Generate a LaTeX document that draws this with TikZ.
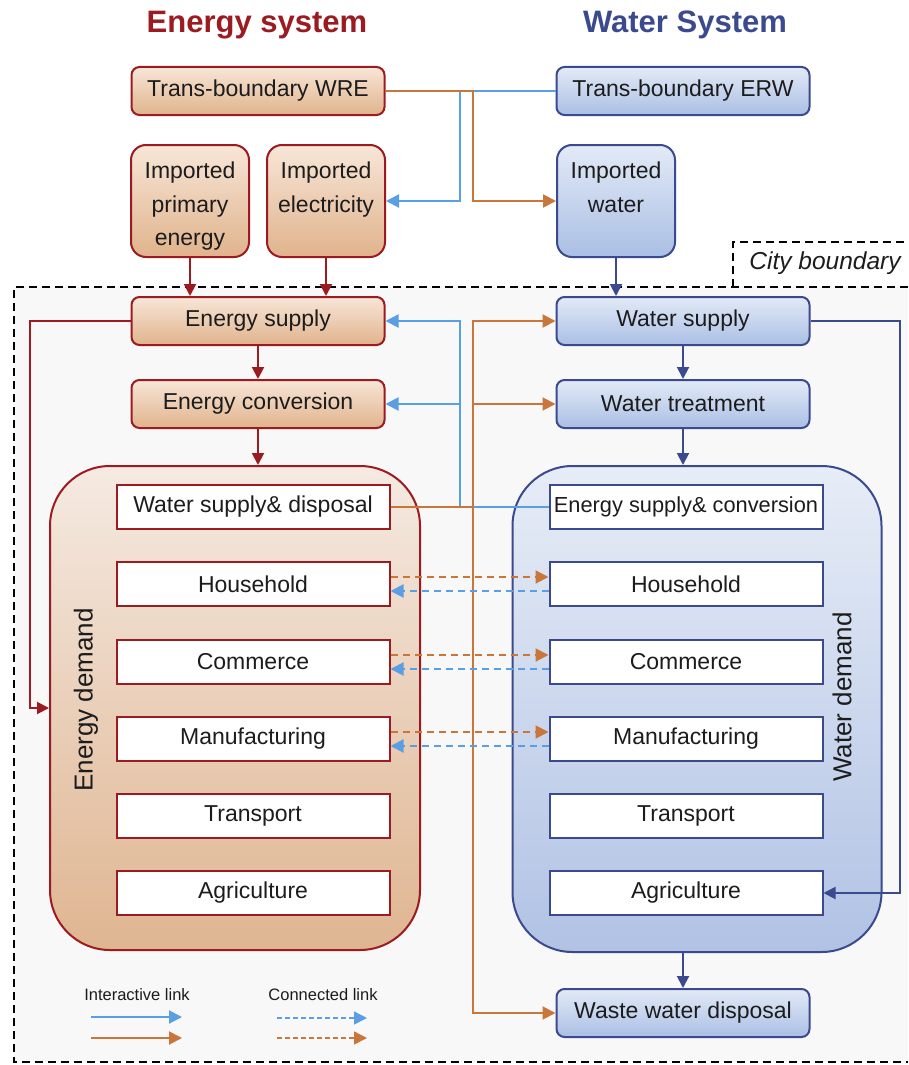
\documentclass[tikz,border=0pt]{standalone}
\usepackage{fontspec}
\setmainfont{Liberation Sans}
\usetikzlibrary{positioning, calc, arrows.meta}
\definecolor{EnRed}{HTML}{9B1B20}
\definecolor{WaNavy}{HTML}{3B4A8E}
\definecolor{LinkOrange}{HTML}{C9763A}
\definecolor{LinkBlue}{HTML}{5A9EE4}
\definecolor{EnTop}{HTML}{F8E6D8}
\definecolor{EnBot}{HTML}{E0B38C}
\definecolor{WaTop}{HTML}{E3EAF7}
\definecolor{WaBot}{HTML}{AABFE4}
\definecolor{EnDemTop}{HTML}{F5EAE2}
\definecolor{EnDemBot}{HTML}{DFB591}
\definecolor{WaDemTop}{HTML}{E7EDF7}
\definecolor{WaDemBot}{HTML}{B1C2E4}
\definecolor{BoundFill}{HTML}{F8F8F8}
\definecolor{InkDark}{HTML}{1C1C1C}
\newcommand{\fntbox}{\fontsize{23}{33.5}\selectfont}
\newcommand{\fnttitle}{\fontsize{31}{36}\selectfont\bfseries}
\newcommand{\fntlegend}{\fontsize{16.5}{20}\selectfont}
\newcommand{\imptop}{\rule{0pt}{26.8pt}}
\newcommand{\impbot}{\rule[-4.8pt]{0pt}{0pt}}
\tikzset{
    enbox/.style={rectangle, rounded corners=8pt, draw=EnRed, line width=2pt, top color=EnTop, bottom color=EnBot, text=InkDark, align=center, font=\fntbox, minimum width=253pt, minimum height=48pt, inner sep=0pt},
    wabox/.style={enbox, draw=WaNavy, top color=WaTop, bottom color=WaBot},
    enimport/.style={enbox, rounded corners=15pt, minimum width=118pt, minimum height=112pt},
    waimport/.style={wabox, rounded corners=15pt, minimum width=118pt, minimum height=112pt},
    endemand/.style={rectangle, rounded corners=60pt, draw=EnRed, line width=2pt, top color=EnDemTop, bottom color=EnDemBot, minimum width=370pt, minimum height=484pt},
    wademand/.style={endemand, draw=WaNavy, top color=WaDemTop, bottom color=WaDemBot, minimum width=369pt, minimum height=486pt},
    ensector/.style={rectangle, draw=EnRed, line width=2pt, fill=white, text=InkDark, font=\fntbox, minimum width=273pt, minimum height=44pt, inner sep=0pt},
    wasector/.style={ensector, draw=WaNavy},
    enarrow/.style={-{Triangle[length=12pt, width=12pt]}, line width=2pt, draw=EnRed},
    waarrow/.style={enarrow, draw=WaNavy},
    olink/.style={-{Triangle[length=13pt, width=13pt]}, line width=2pt, draw=LinkOrange},
    blink/.style={olink, draw=LinkBlue},
    dashlink/.style={dash pattern=on 7pt off 5pt},
    cityline/.style={line width=2pt, dash pattern=on 8pt off 5pt},
}

\begin{document}
\begin{tikzpicture}[x=1pt, y=-1pt]
    \useasboundingbox (0,0) rectangle (908,1065);

    % City boundary
    \fill[BoundFill] (14,287) rectangle (908,1062);
    \draw[cityline] (908,287) -- (14,287) -- (14,1062) -- (908,1062);
    \draw[cityline] (733,287) -- (733,242) -- (908,242);
    \node[font=\fontsize{24.5}{28}\selectfont\itshape, text=InkDark] (citylbl) at (825,263) {City boundary};

    % Titles
    \node[font=\fnttitle, text=EnRed] (entitle) at (257,25) {Energy system};
    \node[font=\fnttitle, text=WaNavy] (watitle) at (685,25) {Water System};

    % Outside the city
    \node[enbox] (tbwre) at (258,91) {Trans-boundary WRE};
    \node[wabox] (tberw) at (683,91) {Trans-boundary ERW};
    \node[enimport] (impprim) at (190,201) {\imptop Imported\\primary\\energy\impbot};
    \node[enimport] (impelec) at (326,201) {\imptop Imported\\electricity\\\impbot};
    \node[waimport] (impwat) at (616,201) {\imptop Imported\\water\\\impbot};

    % Supply chain
    \node[enbox] (ensup) at (258,321) {Energy supply};
    \node[enbox] (enconv) at (258,404) {Energy conversion};
    \node[wabox] (watsup) at (683,321) {Water supply};
    \node[wabox] (wattreat) at (683,404) {Water treatment};
    \node[wabox] (wasdisp) at (683,1013) {Waste water disposal};

    % Demand blocks
    \node[endemand] (endem) at (235,708) {};
    \node[wademand] (watdem) at (697,709) {};
    \node[rotate=90, font=\fontsize{26}{30}\selectfont, text=InkDark] (endemlbl) at (86,700) {Energy demand};
    \node[rotate=90, font=\fontsize{26}{30}\selectfont, text=InkDark] (watdemlbl) at (842,697) {Water demand};

    % Sectors (energy side)
    \node[ensector] (lwsd) at (253,507) {Water supply\& disposal};
    \node[ensector] (lhouse) at (253,584) {Household};
    \node[ensector] (lcomm) at (253,662) {Commerce};
    \node[ensector] (lmanu) at (253,739) {Manufacturing};
    \node[ensector] (ltrans) at (253,816) {Transport};
    \node[ensector] (lagri) at (253,893) {Agriculture};

    % Sectors (water side)
    \node[wasector, font=\fontsize{21.8}{26}\selectfont] (resc) at (686,507) {Energy supply\& conversion};
    \node[wasector] (rhouse) at (686,584) {Household};
    \node[wasector] (rcomm) at (686,662) {Commerce};
    \node[wasector] (rmanu) at (686,739) {Manufacturing};
    \node[wasector] (rtrans) at (686,816) {Transport};
    \node[wasector] (ragri) at (686,893) {Agriculture};

    % Energy flows
    \draw[enarrow] (impprim.south) -- (impprim.south |- ensup.north);
    \draw[enarrow] (impelec.south) -- (impelec.south |- ensup.north);
    \draw[enarrow] (ensup.south) -- (enconv.north);
    \draw[enarrow] (enconv.south) -- (enconv.south |- endem.north);
    \draw[enarrow] (ensup.west) -- ++(-101,0) |- (endem.west);

    % Water flows
    \draw[waarrow] (impwat.south) -- (impwat.south |- watsup.north);
    \draw[waarrow] (watsup.south) -- (wattreat.north);
    \draw[waarrow] (wattreat.south) -- (wattreat.south |- watdem.north);
    \draw[waarrow] (wasdisp.north |- watdem.south) -- (wasdisp.north);
    \draw[waarrow] (watsup.east) -- ++(89,0) |- (ragri.east);

    % Interactive links
    \coordinate (bbus) at (460,0);
    \coordinate (obus) at (473,0);
    \draw[blink] (tberw.west) -| (bbus |- impelec.east) -- (impelec.east);
    \draw[olink] (tbwre.east) -| (obus |- impwat.west) -- (impwat.west);
    \draw[blink] (resc.west) -| (bbus |- ensup.east) -- (ensup.east);
    \draw[blink] (bbus |- enconv.east) -- (enconv.east);
    \draw[olink] (lwsd.east) -| (obus |- watsup.west) -- (watsup.west);
    \draw[olink] (obus |- wattreat.west) -- (wattreat.west);
    \draw[olink] (lwsd.east) -| (obus |- wasdisp.west) -- (wasdisp.west);

    % Connected links
    \draw[olink, dashlink] ([yshift=7pt]lhouse.east) -- ([yshift=7pt]rhouse.west);
    \draw[blink, dashlink] ([yshift=-7pt]rhouse.west) -- ([yshift=-7pt]lhouse.east);
    \draw[olink, dashlink] ([yshift=7pt]lcomm.east) -- ([yshift=7pt]rcomm.west);
    \draw[blink, dashlink] ([yshift=-7pt]rcomm.west) -- ([yshift=-7pt]lcomm.east);
    \draw[olink, dashlink] ([yshift=7pt]lmanu.east) -- ([yshift=7pt]rmanu.west);
    \draw[blink, dashlink] ([yshift=-7pt]rmanu.west) -- ([yshift=-7pt]lmanu.east);

    % Legend
    \node[font=\fntlegend, text=InkDark] (lgint) at (137,995) {Interactive link};
    \node[font=\fntlegend, text=InkDark] (lgcon) at (323,995) {Connected link};
    \coordinate (lgA1) at (91,1017);  \coordinate (lgA2) at (182,1017);
    \coordinate (lgB1) at (91,1038);  \coordinate (lgB2) at (182,1038);
    \coordinate (lgC1) at (277,1018); \coordinate (lgC2) at (367,1018);
    \coordinate (lgD1) at (277,1038); \coordinate (lgD2) at (367,1038);
    \draw[blink] (lgA1) -- (lgA2);
    \draw[olink] (lgB1) -- (lgB2);
    \draw[blink, line width=1.4pt, dash pattern=on 5pt off 3pt] (lgC1) -- (lgC2);
    \draw[olink, line width=1.4pt, dash pattern=on 5pt off 3pt] (lgD1) -- (lgD2);
\end{tikzpicture}
\end{document}
